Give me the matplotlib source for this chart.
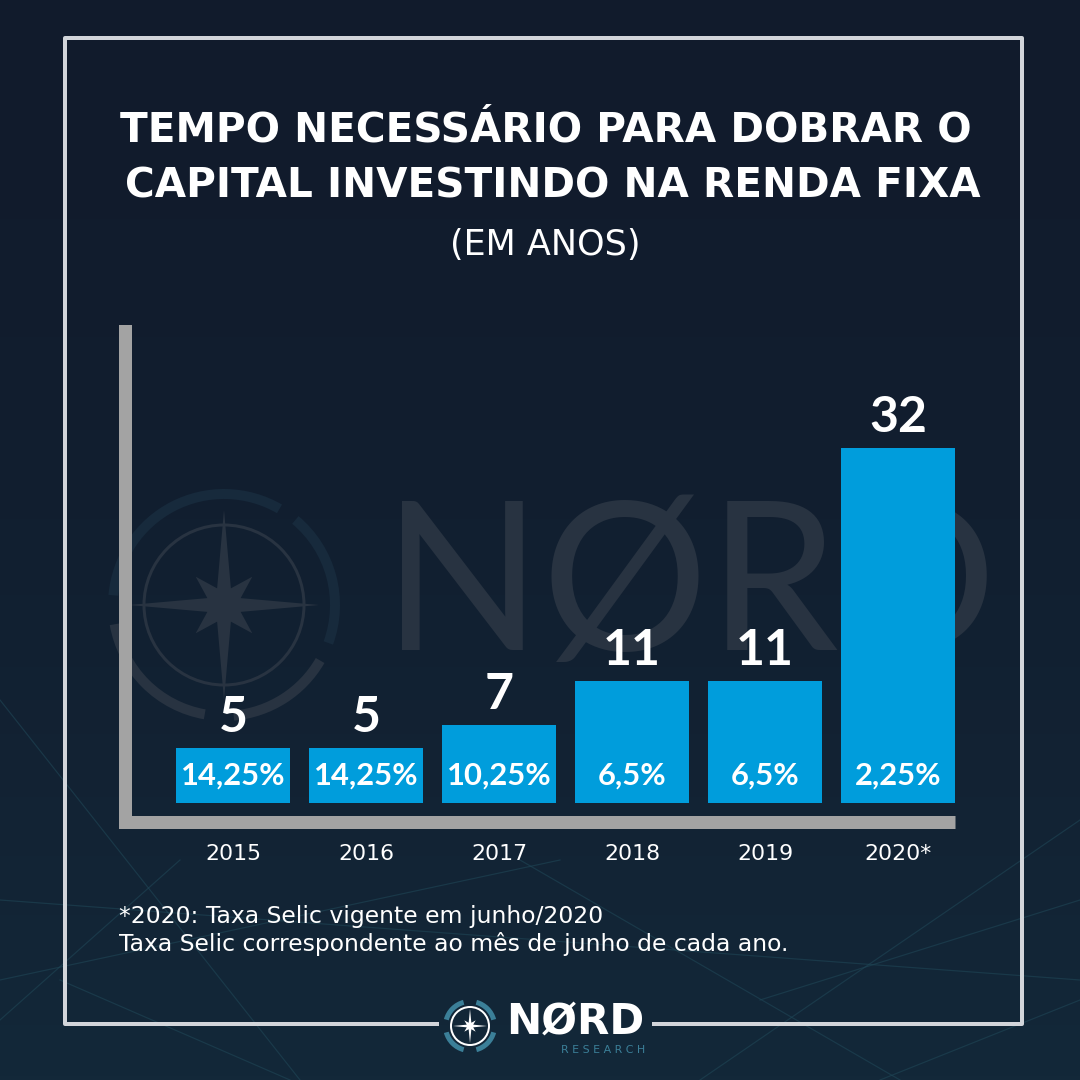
import numpy as np
import matplotlib.pyplot as plt
from matplotlib.patches import Circle, Wedge, Polygon

# dados do grafico
anos = ["2015", "2016", "2017", "2018", "2019", "2020*"]
tempo_anos = [5, 5, 7, 11, 11, 32]
selic = ["14,25%", "14,25%", "10,25%", "6,5%", "6,5%", "2,25%"]

titulo = "TEMPO NECESSÁRIO PARA DOBRAR O\nCAPITAL INVESTINDO NA RENDA FIXA"
subtitulo = "(EM ANOS)"
nota1 = "*2020: Taxa Selic vigente em junho/2020"
nota2 = "Taxa Selic correspondente ao mês de junho de cada ano."

FONTE = "DejaVu Sans"
FONTE2 = "Lato"
plt.rcParams['font.family'] = [FONTE]

W = H = 1080
PX = 72 / 100  # pontos por pixel

fig = plt.figure(figsize=(10.8, 10.8), dpi=100)

# fundo (coordenadas em pixels, y para baixo)
bg = fig.add_axes([0, 0, 1, 1])
bg.set_xlim(0, W)
bg.set_ylim(H, 0)
bg.axis('off')
g = np.linspace(0, 1, 256)[:, None, None]
c_top = np.array([17, 27, 44]) / 255
c_bot = np.array([19, 40, 57]) / 255
bg.imshow(c_top + (c_bot - c_top) * g ** 1.6, extent=[0, W, H, 0], aspect='auto', zorder=0)

# linhas de fundo (rede), so decoracao
rede = [((0, 700), (300, 1080)), ((0, 980), (560, 860)), ((60, 980), (290, 1080)),
        ((180, 860), (0, 1020)), ((520, 860), (900, 1080)), ((700, 1080), (1080, 820)),
        ((1080, 900), (760, 1000)), ((0, 900), (1080, 980)), ((880, 1080), (1080, 1000))]
for (xa, ya), (xb, yb) in rede:
    bg.plot([xa, xb], [ya, yb], color='#1f4656', lw=1.2 * PX, alpha=0.6, zorder=0.5)

# moldura
bg.plot([437, 65, 65, 1022, 1022, 654], [1024, 1024, 38, 38, 1024, 1024],
        color='#d2d5da', lw=4 * PX, solid_capstyle='projecting', zorder=2)

# marca d'agua
wm = '#283341'
bg.text(383, 650, "NØRD", fontsize=208 * PX, color=wm, family=FONTE2,
        va='baseline', ha='left', zorder=1)
bg.add_patch(Circle((224, 605), 80, fill=False, ec=wm, lw=3 * PX, zorder=1))
for a0, a1, col in [(100, 170, wm), (185, 300, '#172a3c'), (310, 20, '#172a3c'), (30, 85, wm)]:
    bg.add_patch(Wedge((224, 605), 116, a0, a1, width=10, fc=col, ec='none', zorder=1))
ang = np.deg2rad(np.arange(0, 360, 22.5))
rad = np.array([95, 18, 40, 18] * 4)
bg.add_patch(Polygon(np.c_[224 + rad * np.sin(ang), 605 - rad * np.cos(ang)],
                     fc=wm, ec='none', zorder=1))

# titulo
bg.text(546, 141, titulo.split("\n")[0], ha='center', va='baseline', color='white',
        fontsize=40.5 * PX, fontweight='bold', zorder=3)
bg.text(553, 197, titulo.split("\n")[1], ha='center', va='baseline', color='white',
        fontsize=40.5 * PX, fontweight='bold', zorder=3)
bg.text(545, 255, subtitulo, ha='center', va='baseline', color='white',
        fontsize=35 * PX, zorder=3)

# notas
bg.text(119, 923, nota1, ha='left', va='baseline', color='white', fontsize=23.5 * PX, zorder=3)
bg.text(119, 951, nota2, ha='left', va='baseline', color='white', fontsize=23.5 * PX, zorder=3)

# logo inferior
bg.text(506, 1034, "NØRD", ha='left', va='baseline', color='white',
        fontsize=42 * PX, fontweight='bold', zorder=3)
bg.text(645, 1053, "R E S E A R C H", ha='right', va='baseline', color='#3b7f98',
        fontsize=11 * PX, zorder=3)
bg.add_patch(Circle((470, 1026), 19, fill=False, ec='white', lw=2 * PX, zorder=3))
for a0, a1 in [(105, 165), (195, 255), (285, 345), (15, 75)]:
    bg.add_patch(Wedge((470, 1026), 27, a0, a1, width=5, fc='#3b7f98', ec='none', zorder=3))
rad2 = np.array([17, 3.5, 8, 3.5] * 4)
bg.add_patch(Polygon(np.c_[470 + rad2 * np.sin(ang), 1026 - rad2 * np.cos(ang)],
                     fc='white', ec='none', zorder=3))

# area do grafico
L, R, B, T = 124.5, 955, 821.5, 331.5
ax = fig.add_axes([L / W, 1 - B / H, (R - L) / W, (B - T) / H])
ax.patch.set_alpha(0)
sy = 11.1   # px por ano
sx = 133.0  # px por barra
x0 = -(233 - L) / sx
ax.set_xlim(x0, x0 + (R - L) / sx)
ax.set_ylim(-(B - 803) / sy, (803 - T) / sy)

x = np.arange(len(anos))
ax.bar(x, tempo_anos, width=0.85, color='#009ddc', zorder=2)

for i, (v, s) in enumerate(zip(tempo_anos, selic)):
    ax.annotate(str(v), (i, v), xytext=(0, 16 * PX), textcoords='offset points',
                ha='center', va='baseline', color='white', fontsize=50 * PX,
                fontweight='bold', family=FONTE2)
    ax.annotate(s, (i, 0), xytext=(0, 18 * PX), textcoords='offset points',
                ha='center', va='baseline', color='white', fontsize=31 * PX,
                fontweight='bold', family=FONTE2)

for side in ['top', 'right']:
    ax.spines[side].set_visible(False)
for side in ['left', 'bottom']:
    ax.spines[side].set_color('#a3a3a3')
    ax.spines[side].set_linewidth(13 * PX)
ax.spines['left'].set_capstyle('projecting')
ax.spines['bottom'].set_capstyle('butt')

ax.set_yticks([])
ax.set_xticks(x)
ax.set_xticklabels(anos, color='white', fontsize=22 * PX)
ax.tick_params(axis='x', length=0, pad=22 * PX)

fig.savefig("out.png", dpi=100, facecolor=fig.get_facecolor())
